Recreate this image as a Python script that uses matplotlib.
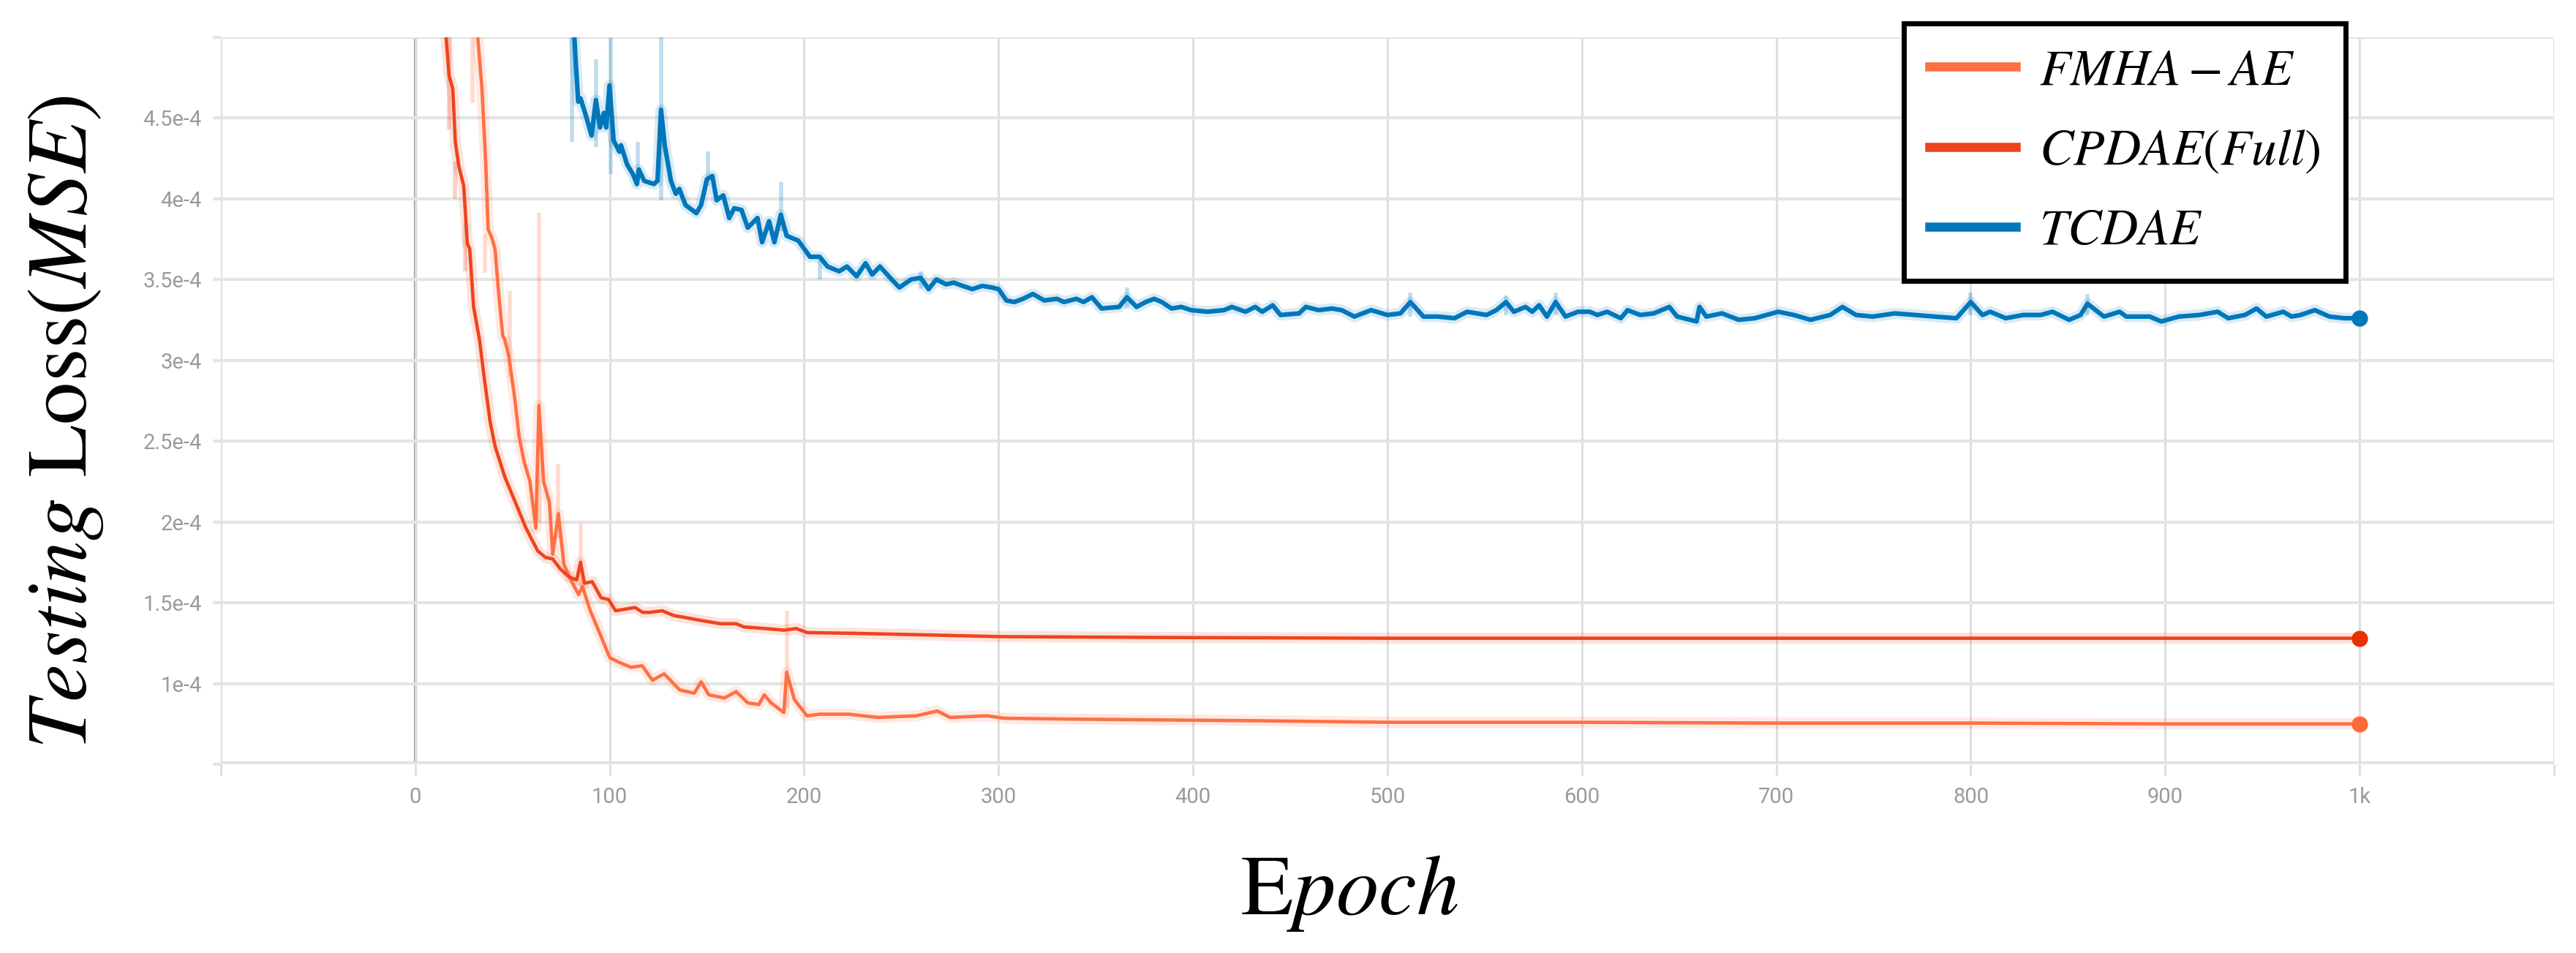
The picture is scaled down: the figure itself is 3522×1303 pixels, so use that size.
import numpy as np
import matplotlib
matplotlib.use('Agg')
import matplotlib.pyplot as plt

plt.rcParams['mathtext.fontset'] = 'stix'

# ---- data (loss values in units of 1e-4) ----
fmha_epoch = [31.8, 34.3, 36.2, 37.5, 39.3, 41, 43, 45, 46, 48, 51, 53.4, 56, 59, 62, 63.6,
              66, 69, 70.7, 73.6, 76.4, 80, 84, 86, 90, 95.6, 100, 105, 111, 116.7, 122,
              128, 136, 143.5, 147, 151, 159, 165, 171, 176.7, 179.5, 183, 189.6, 191, 195,
              201.5, 208, 223, 238, 257.7, 268.5, 275, 294, 303, 335, 379, 430, 500, 550,
              600, 700, 800, 900, 1000]
fmha_loss = [5.05, 4.68, 4.23, 3.81, 3.76, 3.69, 3.40, 3.15, 3.13, 3.03, 2.78, 2.53, 2.37,
             2.25, 1.96, 2.72, 2.25, 2.12, 1.80, 2.05, 1.74, 1.64, 1.55, 1.60, 1.45, 1.29,
             1.16, 1.13, 1.10, 1.11, 1.02, 1.06, 0.96, 0.94, 1.01, 0.93, 0.91, 0.95, 0.88,
             0.87, 0.93, 0.88, 0.82, 1.07, 0.90, 0.80, 0.81, 0.81, 0.79, 0.80, 0.83, 0.79,
             0.80, 0.785, 0.78, 0.775, 0.77, 0.76, 0.76, 0.76, 0.755, 0.755, 0.75, 0.75]

cpdae_epoch = [15.5, 17.4, 19.3, 20.6, 22.4, 24.9, 26.8, 28, 30, 33, 35.6, 38.5, 41, 46,
               51.5, 57, 63, 67, 70.7, 74.5, 79, 83, 85, 87, 91, 95.6, 99.4, 103, 108,
               113, 117, 120.5, 127, 133, 138, 147, 157, 165, 169, 180, 189.6, 196, 201.5,
               227, 265, 300, 378, 500, 600, 700, 800, 900, 1000]
cpdae_loss = [5.05, 4.76, 4.68, 4.35, 4.20, 4.08, 3.72, 3.69, 3.33, 3.13, 2.88, 2.62, 2.47,
              2.28, 2.12, 1.96, 1.82, 1.78, 1.77, 1.71, 1.66, 1.64, 1.75, 1.62, 1.63, 1.53,
              1.52, 1.45, 1.46, 1.47, 1.44, 1.44, 1.45, 1.42, 1.41, 1.39, 1.37, 1.37, 1.35,
              1.34, 1.33, 1.34, 1.315, 1.31, 1.30, 1.29, 1.285, 1.28, 1.28, 1.28, 1.28, 1.28,
              1.28]

tcdae_epoch = [81.6, 82.6, 83.8, 85, 87.6, 90.7, 92.9, 95, 97, 98.2, 99.9, 102, 105, 105.8,
               109, 112, 114, 115, 117.7, 122.7, 124.6, 126.4, 128.3, 131.5, 134, 135.8,
               139, 144.6, 147, 150, 152.8, 155, 158.4, 161.5, 164, 167.8, 171, 176, 178.4,
               182, 184.7, 188, 191, 197, 203, 208, 212, 218, 222, 227, 231.6, 235, 239,
               245, 249, 255, 260, 264, 268, 273, 277, 281.5, 286.5, 291.6, 296.6, 300,
               304, 308, 312.6, 317.6, 323.5, 330, 333.6, 340, 343.7, 348, 353, 362, 366,
               371, 375.6, 380, 384, 389, 394, 399, 407.5, 416, 420, 427, 432, 435.6, 441,
               445, 454.6, 458, 464.7, 471.4, 476.5, 483, 491.6, 500, 506.7, 511.8, 518.5,
               526, 534.5, 541, 551, 556, 561, 565, 571, 574.5, 578, 582, 586.5, 591.6,
               598, 604, 608, 613, 620, 623.5, 630, 637, 645, 649, 659, 660.5, 664, 672,
               680.7, 689, 701, 709, 717.6, 727.7, 734, 741, 749.6, 761, 771, 781.5, 792.6,
               800, 806, 810, 818, 827, 836, 842, 850.6, 856.5, 860, 868.5, 876.6, 880,
               892, 898, 907, 917.6, 927, 932.4, 941, 947, 952, 960.7, 965, 969.6, 977,
               984.5, 992, 1000]
tcdae_loss = [5.05, 4.83, 4.60, 4.62, 4.52, 4.39, 4.61, 4.44, 4.53, 4.44, 4.70, 4.36, 4.29,
              4.33, 4.21, 4.15, 4.09, 4.18, 4.11, 4.09, 4.11, 4.55, 4.33, 4.11, 4.03, 4.06,
              3.96, 3.91, 3.96, 4.12, 4.14, 3.99, 4.02, 3.88, 3.94, 3.93, 3.82, 3.88, 3.73,
              3.86, 3.73, 3.90, 3.77, 3.74, 3.64, 3.64, 3.58, 3.55, 3.58, 3.52, 3.60, 3.53,
              3.58, 3.50, 3.45, 3.50, 3.51, 3.44, 3.50, 3.47, 3.48, 3.46, 3.44, 3.46, 3.45,
              3.44, 3.37, 3.36, 3.38, 3.41, 3.37, 3.38, 3.36, 3.38, 3.36, 3.39, 3.32, 3.33,
              3.39, 3.33, 3.36, 3.38, 3.36, 3.32, 3.33, 3.31, 3.30, 3.31, 3.33, 3.30, 3.33,
              3.30, 3.34, 3.28, 3.29, 3.33, 3.31, 3.32, 3.31, 3.27, 3.31, 3.28, 3.29, 3.36,
              3.27, 3.27, 3.26, 3.30, 3.28, 3.31, 3.36, 3.30, 3.33, 3.30, 3.34, 3.27, 3.36,
              3.27, 3.30, 3.30, 3.28, 3.30, 3.26, 3.31, 3.28, 3.29, 3.33, 3.27, 3.24, 3.33,
              3.27, 3.29, 3.25, 3.26, 3.30, 3.28, 3.25, 3.28, 3.33, 3.28, 3.27, 3.29, 3.28,
              3.27, 3.26, 3.36, 3.28, 3.30, 3.26, 3.28, 3.28, 3.30, 3.25, 3.28, 3.35, 3.27,
              3.30, 3.27, 3.27, 3.24, 3.27, 3.28, 3.30, 3.26, 3.28, 3.32, 3.27, 3.30, 3.27,
              3.28, 3.31, 3.27, 3.26, 3.26]

# faint raw-value spikes: epoch, low, high
fmha_spike_epoch = [29.3, 36, 48.5, 63.6, 73.6, 85, 191]
fmha_spike_lo = [4.59, 3.54, 2.90, 2.00, 1.90, 1.60, 0.85]
fmha_spike_hi = [5.05, 3.78, 3.43, 3.91, 2.36, 1.99, 1.45]

cpdae_spike_epoch = [17.5, 20.5, 25.5]
cpdae_spike_lo = [4.43, 4.00, 3.55]
cpdae_spike_hi = [5.05, 4.23, 3.85]

tcdae_spike_epoch = [80.5, 92.9, 100.5, 114.5, 126.4, 150.5, 188, 208, 260, 366, 511.8,
                     561, 586.5, 800, 860]
tcdae_spike_lo = [4.35, 4.32, 4.15, 4.15, 3.99, 4.08, 3.80, 3.50, 3.44, 3.32, 3.27, 3.28,
                  3.28, 3.28, 3.28]
tcdae_spike_hi = [5.05, 4.86, 5.05, 4.35, 5.05, 4.29, 4.10, 3.64, 3.55, 3.45, 3.42, 3.40,
                  3.42, 3.42, 3.41]

labels = [r'$FMHA-AE$', r'$CPDAE(Full)$', r'$TCDAE$']
colors = ['#ff7043', '#f0441c', '#0077bb']
dot_colors = ['#ff6a3a', '#e83000', '#0077bb']

x_ticks = list(range(-100, 1101, 100))
x_ticklabels = ['', '0', '100', '200', '300', '400', '500', '600', '700', '800', '900', '1k', '']
y_ticks = [0.5, 1, 1.5, 2, 2.5, 3, 3.5, 4, 4.5, 5]
y_ticklabels = ['', '1e-4', '1.5e-4', '2e-4', '2.5e-4', '3e-4', '3.5e-4', '4e-4', '4.5e-4', '']

# ---- figure ----
fig = plt.figure(figsize=(35.23, 13.03), dpi=100)
ax = fig.add_axes([0.0857, 0.198, 0.9055, 0.7632])

series = [
    (fmha_epoch, fmha_loss, fmha_spike_epoch, fmha_spike_lo, fmha_spike_hi),
    (cpdae_epoch, cpdae_loss, cpdae_spike_epoch, cpdae_spike_lo, cpdae_spike_hi),
    (tcdae_epoch, tcdae_loss, tcdae_spike_epoch, tcdae_spike_lo, tcdae_spike_hi),
]

handles = []
for i, (ep, lo, sx, slo, shi) in enumerate(series):
    ep = np.array(ep)
    lo = np.array(lo) * 1e-4
    # faint raw band
    ax.plot(ep, lo, color=colors[i], lw=11, alpha=0.15, solid_capstyle='round', zorder=2)
    ax.vlines(sx, np.array(slo) * 1e-4, np.array(shi) * 1e-4, color=colors[i],
              lw=4, alpha=0.25, zorder=2)
    lw = 4.5 if i == 2 else 3.3
    ax.plot(ep, lo, color=colors[i], lw=lw, zorder=3)
    ax.plot(ep[-1], lo[-1], 'o', color=dot_colors[i], ms=15, zorder=4)
    h, = ax.plot([], [], color=colors[i], lw=9)
    handles.append(h)

ax.set_xlim(-100, 1100)
ax.set_ylim(0.5e-4, 5e-4)
ax.set_xticks(x_ticks)
ax.set_xticklabels(x_ticklabels)
ax.set_yticks([v * 1e-4 for v in y_ticks])
ax.set_yticklabels(y_ticklabels)

for s in ax.spines.values():
    s.set_visible(False)

ax.grid(True, axis='y', color='#e4e4e4', lw=3, zorder=0)
ax.grid(True, axis='x', color='#dcdcdc', lw=2, zorder=0)
ax.axvline(0, color='#9a9a9a', lw=3, zorder=1)
ax.axhline(0.5e-4, color='#e2e2e2', lw=6, zorder=1)

ax.tick_params(axis='x', length=11, width=2, color='#dcdcdc', pad=11,
               labelsize=21, labelcolor='#9a9a9a')
ax.tick_params(axis='y', length=8, width=3, color='#e4e4e4', pad=11,
               labelsize=21, labelcolor='#9a9a9a')
for t in ax.get_xticklabels() + ax.get_yticklabels():
    t.set_fontfamily('Roboto')

leg = fig.legend(handles, labels, loc='upper left', bbox_to_anchor=(0.739, 0.9754),
                 bbox_transform=fig.transFigure, fontsize=50, frameon=True,
                 fancybox=False, edgecolor='black', framealpha=1,
                 handlelength=1.7, handletextpad=0.45, borderpad=0.5,
                 labelspacing=0.65, borderaxespad=0)
leg.get_frame().set_linewidth(5)
for t in leg.get_texts():
    t.set_fontfamily('STIXGeneral')

fig.text(0.0255, 0.557, r'$Testing$ Loss$(MSE)$', rotation=90, ha='center', va='center',
         fontsize=84, fontfamily='STIXGeneral')
fig.text(0.5237, 0.0407, r'E$poch$', ha='center', va='baseline',
         fontsize=84, fontfamily='STIXGeneral')

fig.savefig('out.png', dpi=100)
